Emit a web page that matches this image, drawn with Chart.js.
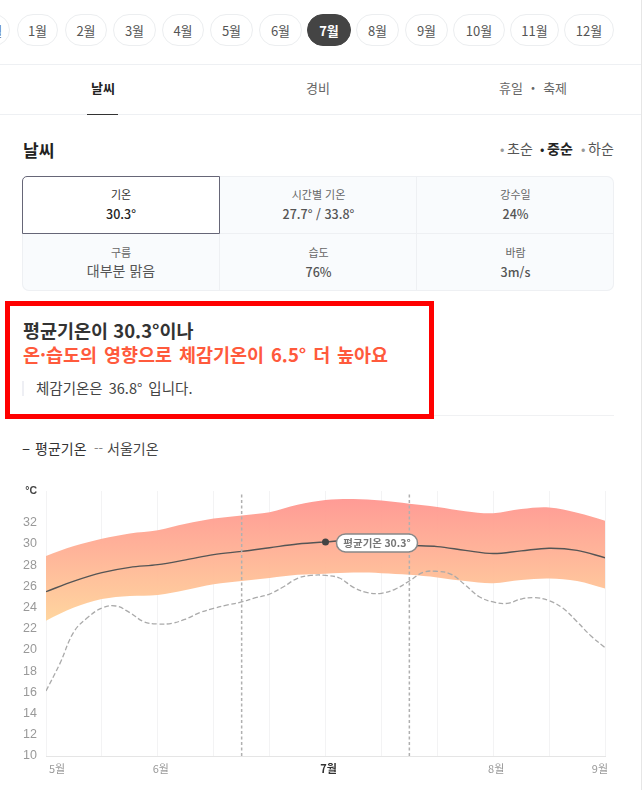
<!DOCTYPE html>
<html lang="ko"><head><meta charset="utf-8">
<script src="https://cdn.jsdelivr.net/npm/chart.js@4"></script>
<style>
html,body{margin:0;padding:0;background:#fff;width:642px;height:790px;overflow:hidden}
body{position:relative;font-family:"Noto Sans CJK KR","Noto Sans",sans-serif;color:#333}
.a{position:absolute;white-space:nowrap;line-height:1}
.c{transform:translateX(-50%)}
.pill{position:absolute;top:14px;height:30px;border:1px solid #eceef0;border-radius:17px;display:flex;align-items:center;justify-content:center;font-size:13px;color:#555;box-sizing:content-box;background:#fff}
.pill.on{background:#444;border-color:#444;color:#fff;font-weight:700}
.hr{position:absolute;height:1px}
#wrap{position:absolute;left:0;top:470px;width:642px;height:320px}
</style></head><body>
<div id="page"></div>
<div id="wrap"><canvas id="chart" width="642" height="320"></canvas></div>
<script>
// ---------- data ----------
const pillMonths = ['12월','1월','2월','3월','4월','5월','6월','7월','8월','9월','10월','11월','12월'];
const pillLefts  = [-32,17,65,113,162,210,259,307,356,405,453,510,564];
const pillRights = [10,58,107,156,204,253,302,351,399,448,505,559,614];
const activeMonth = '7월';
const tabs = ['날씨','경비','휴일 ・ 축제'];
const periods = ['초순','중순','하순'];
const cellLabels = ['기온','시간별 기온','강수일','구름','습도','바람'];
const cellValues = ['30.3°','27.7° / 33.8°','24%','대부분 맑음','76%','3m/s'];

const yTicks = [10,12,14,16,18,20,22,24,26,28,30,32];
const xMonthLabels = {0:'5월',2:'6월',5:'7월',8:'8월',10:'9월'};
const upperBand = [28.87,29.8,30.5,31.0,31.3,31.9,32.4,32.7,33.0,33.7,34.15,34.25,34.1,33.8,33.5,33.1,32.9,33.3,33.45,32.95,32.2];
const lowerBand = [22.77,24.0,24.8,25.1,25.2,25.66,26.2,26.5,26.8,27.1,27.2,27.3,27.25,27.1,26.85,26.5,26.3,26.6,26.75,26.5,25.8];
const meanTemp  = [25.5,26.5,27.3,27.8,28.05,28.5,29.0,29.3,29.65,30.0,30.2,30.35,30.05,29.87,29.75,29.4,29.1,29.35,29.6,29.4,28.7];
const seoulTemp = [16.13,18.74,21.73,23.08,23.96,24.15,23.52,22.67,22.45,22.52,22.92,23.52,23.93,24.25,24.53,24.94,25.28,25.97,26.76,27.04,27.04,
  26.79,25.91,25.41,25.35,25.75,26.51,27.33,27.42,27.14,26.13,25.03,24.53,24.4,24.81,24.94,24.65,23.93,22.67,21.32,20.22];
const guideLines = [3.5,6.5];
const highlightIndex = 10;
const highlightLabel = '평균기온 30.3°';

// ---------- page furniture ----------
const page = document.getElementById('page');
function el(cls,css,text){const d=document.createElement('div');d.className=cls;d.style.cssText=css;if(text!=null)d.textContent=text;page.appendChild(d);return d;}
pillMonths.forEach((m,i)=>{
  const on = m===activeMonth;
  el('pill'+(on?' on':''),`left:${pillLefts[i]}px;width:${pillRights[i]-pillLefts[i]-2}px`,m);
});
el('hr','left:0;top:64px;width:642px;background:#eef0f3');
el('hr','left:0;top:114px;width:642px;background:#eef0f3');
el('hr','left:87px;top:114px;width:31px;background:#333');
el('a c','left:103px;top:81px;font-size:13px;font-weight:700;color:#222',tabs[0]);
el('a c','left:318px;top:81px;font-size:13px;color:#666',tabs[1]);
el('a c','left:533px;top:81px;font-size:13px;color:#666',tabs[2]);
el('a','left:23px;top:141px;font-size:17px;font-weight:700;color:#222','날씨');
[500,540,581].forEach((x,i)=>{
  const on=i===1;
  el('a',`left:${x}px;top:142px;font-size:13px;color:${on?'#222':'#999'}`,'•');
  el('a',`left:${x+7}px;top:141px;font-size:14px;color:${on?'#222':'#555'};font-weight:${on?600:400}`,periods[i]);
});
const colX=[22,220,417,614], rowY=[176,234,291];
el('a','left:22px;top:176px;width:592px;height:115px;background:#f9fbfd;border-radius:7px;box-shadow:0 0 0 1px #eef0f3 inset','');
cellLabels.forEach((t,i)=>{
  const c=i%3,r=Math.floor(i/3);
  const x=colX[c],w=colX[c+1]-x,y=rowY[r],h=rowY[r+1]-y;
  const first=i===0;
  el('a',`left:${x}px;top:${y}px;width:${w}px;height:${h}px;box-sizing:border-box;`+
    (first?'background:#fff;border:1px solid #667;border-top-left-radius:5px;':
      (c<2?'border-right:1px solid #eef0f3;':'')+(r<1?'border-bottom:1px solid #eef0f3;':'')),'');
  const cx=x+w/2;
  el('a c',`left:${cx}px;top:${y+13}px;font-size:11px;color:${first?'#333':'#666'}`,t);
  const large=i===3;
  el('a c',`left:${cx}px;top:${y+(large?29:32)}px;font-size:${large?14:12.5}px;font-weight:${large?400:500};color:${first?'#222':'#555'}`,cellValues[i]);
});
el('hr','left:22px;top:415px;width:592px;background:#f0f1f3');
el('a','left:5px;top:301px;width:429px;height:118px;box-sizing:border-box;border:5px solid #f00;background:#fff','');
el('a','left:23px;top:321px;font-size:18.5px;font-weight:600;color:#333','평균기온이 30.3°이나');
el('a','left:23px;top:345px;font-size:18.5px;font-weight:700;color:#ff5a3c;word-spacing:1.7px','온·습도의 영향으로 체감기온이 6.5° 더 높아요');
el('a','left:22px;top:381px;width:2px;height:15px;background:#eeeff4','');
el('a','left:36px;top:381px;font-size:14.5px;color:#444;word-spacing:2px','체감기온은 36.8° 입니다.');
el('a','left:22px;top:440px;font-size:15px;color:#333','–');
el('a','left:35px;top:441px;font-size:14px;color:#333','평균기온');
el('a','left:94px;top:441px;font-size:13px;color:#888','--');
el('a','left:107px;top:441px;font-size:14px;color:#444','서울기온');
el('a','left:641px;top:0;width:1px;height:790px;background:#e6e6e6','');

// ---------- chart ----------
const pts = (a,div=2) => a.map((y,i)=>({x:i/div,y}));
const bandFill = ctx => {
  const {chart}=ctx, area=chart.chartArea;
  if(!area) return 'rgba(0,0,0,0)';
  const g=chart.ctx.createLinearGradient(0,chart.scales.y.getPixelForValue(34.2),0,chart.scales.y.getPixelForValue(22.8));
  g.addColorStop(0,'rgba(255,152,146,0.97)');
  g.addColorStop(1,'rgba(255,212,156,0.97)');
  return g;
};
const pillPlugin = {
  id:'pill',
  afterDatasetsDraw(chart){
    const {ctx,scales:{x,y}}=chart;
    const px=x.getPixelForValue(highlightIndex/2), py=y.getPixelForValue(meanTemp[highlightIndex]);
    const left=px+11,w=81,h=18,top=py-8;
    ctx.save();
    ctx.beginPath();ctx.roundRect(left,top,w,h,9);
    ctx.fillStyle='#fff';ctx.fill();
    ctx.lineWidth=1.5;ctx.strokeStyle='#888';ctx.stroke();
    ctx.fillStyle='#777';ctx.font='600 10.5px "Noto Sans CJK KR"';
    ctx.textAlign='center';ctx.textBaseline='middle';
    ctx.fillText(highlightLabel,left+w/2,top+h/2);
    ctx.restore();
  }
};
const guideSets = guideLines.map(g=>({
  data:[{x:g,y:10},{x:g,y:34.8}],borderColor:'#b0b0b0',borderWidth:1.5,borderDash:[3,2.5],pointRadius:0,order:0,fill:false
}));
new Chart(document.getElementById('chart'),{
  type:'line',
  data:{datasets:[
    {data:pts(upperBand),borderWidth:0,pointRadius:0,fill:'+1',backgroundColor:bandFill,tension:.35,order:5},
    {data:pts(lowerBand),borderWidth:0,pointRadius:0,fill:false,tension:.35,order:5},
    {data:pts(seoulTemp,4),borderColor:'#aaa',borderWidth:1.3,borderDash:[5,2.5],pointRadius:0,fill:false,tension:.4,order:3},
    {data:pts(meanTemp),borderColor:'#555',borderWidth:1.4,fill:false,tension:.35,order:2,
      pointRadius:c=>c.dataIndex===highlightIndex?3.5:0,pointBackgroundColor:'#444',pointBorderWidth:0},
    ...guideSets
  ]},
  options:{
    responsive:false,animation:false,events:[],
    layout:{padding:{left:0,right:37,top:21,bottom:0}},
    plugins:{legend:{display:false},tooltip:{enabled:false}},
    scales:{
      x:{type:'linear',min:0,max:10,
        afterFit(s){s.height=34;},
        afterBuildTicks(s){s.ticks=Array.from({length:11},(_,i)=>({value:i}));},
        grid:{color:'#f3f3f4',drawTicks:false,lineWidth:1},
        border:{color:'#e5e5e5'},
        ticks:{align:'inner',labelOffset:3,autoSkip:false,maxRotation:0,padding:6,
          callback:v=>xMonthLabels[v]||'',
          color:c=>c.tick&&c.tick.value===5?'#333':'#999',
          font:c=>({family:'"Noto Sans CJK KR"',size:11,weight:c.tick&&c.tick.value===5?700:400})}
      },
      y:{min:10,max:35,
        afterFit(s){s.width=46;},
        afterBuildTicks(s){s.ticks=[...yTicks.map(value=>({value})),{value:35}];},
        grid:{display:false},border:{display:false},
        ticks:{autoSkip:false,padding:1,
          callback:v=>v===35?'°C':v,
          color:c=>c.tick&&c.tick.value===35?'#444':'#999',
          font:c=>c.tick&&c.tick.value===35?{family:'"Liberation Sans"',size:10.5,weight:700}:{family:'"Liberation Sans"',size:12.5}}
      }
    }
  },
  plugins:[pillPlugin]
});
</script>
</body></html>
